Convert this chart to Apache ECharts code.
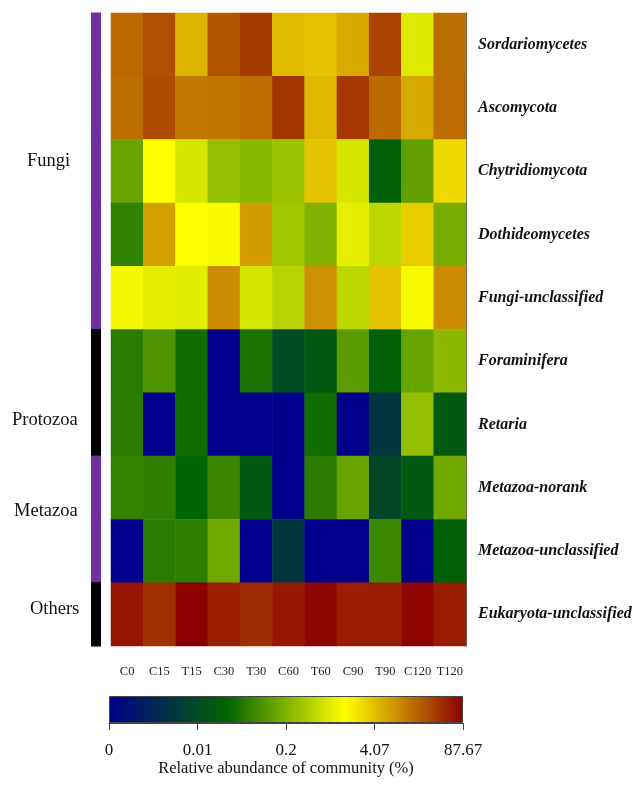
<!DOCTYPE html>
<html>
<head>
<meta charset="utf-8">
<script src="https://cdn.jsdelivr.net/npm/echarts@6/dist/echarts.min.js"></script>
<style>html,body{margin:0;padding:0;background:#fff;}#chart{width:639px;height:785px;}</style>
</head>
<body>
<div id="chart"></div>
<script>
const columns = ['C0','C15','T15','C30','T30','C60','T60','C90','T90','C120','T120'];
const rows = ['Sordariomycetes','Ascomycota','Chytridiomycota','Dothideomycetes','Fungi-unclassified','Foraminifera','Retaria','Metazoa-norank','Metazoa-unclassified','Eukaryota-unclassified'];
const groups = ['Fungi','Protozoa','Metazoa','Others'];
const rowGroup = [0,0,0,0,0,1,1,2,2,3];
const tickValues = [0, 0.01, 0.2, 4.07, 87.67];
const tickLabels = ['0','0.01','0.2','4.07','87.67'];
const colorScale = ['#00008b','#006400','#ffff00','#8b0000'];
const groupColors = ['#7030a0','#000000','#7030a0','#000000'];

// relative abundance (%) per row, columns in the order above
const sordariomycetes = [15.9, 24.4, 4.9, 22.4, 34.6, 4.3, 3.8, 5.7, 29.5, 0.88, 15.0];
const ascomycota = [15.0, 26.5, 12.8, 13.6, 15.4, 37.1, 4.5, 35.7, 15.9, 5.9, 15.4];
const chytridiomycota = [0.138, 1.49, 0.755, 0.276, 0.228, 0.313, 3.8, 0.76, 0.023, 0.126, 2.76];
const dothideomycetes = [0.0575, 6.7, 1.5, 1.33, 7.2, 0.355, 0.2, 0.97, 0.52, 3.33, 0.178];
const fungiUnclassified = [1.25, 0.97, 0.95, 9.3, 0.755, 0.49, 8.7, 0.52, 3.8, 1.33, 9.3];
const foraminifera = [0.0509, 0.095, 0.0349, 0, 0.0396, 0.0100, 0.0166, 0.115, 0.023, 0.138, 0.243];
const retaria = [0.052, 0, 0.035, 0, 0, 0, 0.035, 0, 0.0073, 0.275, 0.0166];
const metazoaNorank = [0.061, 0.054, 0.0271, 0.065, 0.0166, 0, 0.052, 0.138, 0.0095, 0.0166, 0.157];
const metazoaUnclassified = [0, 0.051, 0.055, 0.157, 0, 0.0073, 0, 0, 0.069, 0, 0.023];
const eukaryotaUnclassified = [63.7, 40.7, 87.67, 52.5, 43.3, 59.7, 80, 54, 55.8, 82, 55.8];

const matrix = [sordariomycetes, ascomycota, chytridiomycota, dothideomycetes, fungiUnclassified,
  foraminifera, retaria, metazoaNorank, metazoaUnclassified, eukaryotaUnclassified];

function toPos(v) {
  if (v <= 0) return 0;
  if (v < tickValues[1]) return v / tickValues[1];
  for (let i = 1; i < tickValues.length - 1; i++) {
    if (v <= tickValues[i + 1]) {
      return i + Math.log(v / tickValues[i]) / Math.log(tickValues[i + 1] / tickValues[i]);
    }
  }
  return tickValues.length - 1;
}

const heatData = [];
matrix.forEach((r, ri) => r.forEach((v, ci) => heatData.push([ci, ri, toPos(v), v])));
const groupData = rowGroup.map((g, ri) => [0, ri, g]);
const maxPos = tickValues.length - 1;

const serif = '"Liberation Serif","Times New Roman",serif';
const chart = echarts.init(document.getElementById('chart'), null, {renderer: 'canvas'});
chart.setOption({
  animation: false,
  backgroundColor: '#ffffff',
  grid: [
    {left: 111, top: 13, width: 355, height: 633},
    {left: 91, top: 13, width: 10, height: 633},
    {left: 109, top: 696, width: 354, height: 27}
  ],
  xAxis: [
    {type: 'category', gridIndex: 0, data: columns, position: 'bottom',
      axisLine: {show: false}, axisTick: {show: false}, splitLine: {show: false},
      axisLabel: {interval: 0, fontFamily: serif, fontSize: 12.5, color: '#222', margin: 19}},
    {type: 'category', gridIndex: 1, data: ['g'], show: false},
    {type: 'value', gridIndex: 2, min: 0, max: maxPos, interval: 1,
      axisLine: {show: true, lineStyle: {color: '#444', width: 1}},
      axisTick: {show: true, length: 7, lineStyle: {color: '#444'}},
      splitLine: {show: false},
      axisLabel: {fontFamily: serif, fontSize: 17, color: '#111', margin: 19,
        formatter: v => tickLabels[Math.round(v)]},
      name: 'Relative abundance of community (%)', nameLocation: 'middle', nameGap: 37,
      nameTextStyle: {fontFamily: serif, fontSize: 16.5, color: '#111'}}
  ],
  yAxis: [
    {type: 'category', gridIndex: 0, data: rows, inverse: true, position: 'right',
      axisLine: {show: true, lineStyle: {color: '#666', width: 1}}, axisTick: {show: false}, splitLine: {show: false},
      axisLabel: {fontFamily: serif, fontSize: 16, fontStyle: 'italic', fontWeight: 'bold', color: '#111', margin: 12}},
    {type: 'category', gridIndex: 1, data: rows, inverse: true, show: false},
    {type: 'category', gridIndex: 2, data: ['bar'], show: false}
  ],
  visualMap: {
    show: false, type: 'continuous', seriesIndex: 0, dimension: 2,
    min: 0, max: maxPos, inRange: {color: colorScale}
  },
  graphic: [
    {type: 'text', left: 27, top: 152, style: {text: groups[0], font: '18.5px ' + serif, fill: '#111'}},
    {type: 'text', left: 12, top: 411, style: {text: groups[1], font: '18.5px ' + serif, fill: '#111'}},
    {type: 'text', left: 14, top: 502, style: {text: groups[2], font: '18.5px ' + serif, fill: '#111'}},
    {type: 'text', left: 30, top: 600, style: {text: groups[3], font: '18.5px ' + serif, fill: '#111'}}
  ],
  series: [
    {type: 'heatmap', xAxisIndex: 0, yAxisIndex: 0, data: heatData, silent: true,
      itemStyle: {borderWidth: 0}},
    {type: 'custom', xAxisIndex: 1, yAxisIndex: 1, data: groupData, silent: true,
      renderItem: function (params, api) {
        const c = api.coord([api.value(0), api.value(1)]);
        const s = api.size([1, 1]);
        return {type: 'rect',
          shape: {x: c[0] - s[0] / 2, y: c[1] - s[1] / 2 - 0.5, width: s[0], height: s[1] + 1},
          style: {fill: groupColors[api.value(2)]}};
      }},
    {type: 'bar', xAxisIndex: 2, yAxisIndex: 2, data: [maxPos], barWidth: '100%', silent: true,
      itemStyle: {borderColor: '#444', borderWidth: 1,
        color: new echarts.graphic.LinearGradient(0, 0, 1, 0,
          colorScale.map((c, i) => ({offset: i / (colorScale.length - 1), color: c})))}}
  ]
});
</script>
</body>
</html>
